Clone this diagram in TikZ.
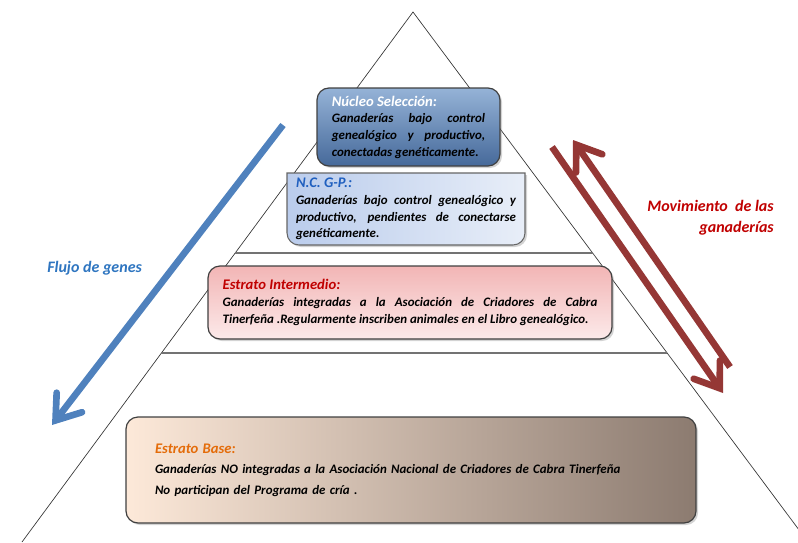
\documentclass[tikz,border=0pt]{standalone}
\usepackage{fontspec}
\setmainfont{Carlito}
\usetikzlibrary{calc,shadows,arrows.meta}

\definecolor{nucleotop}{HTML}{95B3D7}
\definecolor{nucleobot}{HTML}{46699A}
\definecolor{ncleft}{HTML}{BACCEC}
\definecolor{ncmid}{HTML}{A6BDE6}
\definecolor{ncright}{HTML}{E8EEF8}
\definecolor{nctitle}{HTML}{1F5FBF}
\definecolor{inttop}{HTML}{F2B5B5}
\definecolor{intbot}{HTML}{FCEAEA}
\definecolor{inttitle}{HTML}{C00000}
\definecolor{baseleft}{HTML}{FDE9D9}
\definecolor{baseright}{HTML}{8C7B70}
\definecolor{basetitle}{HTML}{E46C0A}
\definecolor{flujoblue}{HTML}{4F81BD}
\definecolor{flujotext}{HTML}{2E75C0}
\definecolor{movred}{HTML}{953735}

\newcommand{\titulofont}{\fontsize{11}{13.5}\selectfont}

\tikzset{
	sombra/.style={drop shadow={shadow xshift=1.5pt, shadow yshift=-1.5pt, opacity=0.35}},
	estrato/.style={rectangle, rounded corners=9pt, draw=black!75, line width=0.9pt,
		inner sep=0pt, font=\bfseries\itshape\fontsize{9.7}{12.5}\selectfont},
	flecha/.style={line width=5pt, -{Straight Barb[length=17pt,width=24pt,line cap=round]}},
	lateral/.style={inner sep=0pt, font=\bfseries\itshape\fontsize{12}{16}\selectfont}
}

\begin{document}
\begin{tikzpicture}[x=0.75pt, y=-0.75pt]
		%%%%% START %%%%%
		\useasboundingbox (0,0) rectangle (798,542);
		
		% piramide
		\coordinate (apex) at (413,12);
		\coordinate (baseL) at (22,542);
		\coordinate (baseR) at (808,542);
		\begin{scope}
			\clip (0,0) rectangle (798,542);
			\draw[line width=0.5pt, black!80] (baseL) -- (apex) -- (baseR);
		\end{scope}
		\draw[line width=0.8pt, black!55] ($(apex)!0.4547!(baseL)$) -- ($(apex)!0.4547!(baseR)$);
		\draw[line width=0.8pt, black!55] ($(apex)!0.6434!(baseL)$) -- ($(apex)!0.6434!(baseR)$);
		
		% estratos
		\node[estrato, sombra, top color=nucleotop, bottom color=nucleobot, minimum width=137.25pt, minimum height=58.5pt,
			text width=115pt, align=justify] (nucleo) at (408.5,127)
			{{\color{white}\titulofont Núcleo Selección:}\\
			Ganaderías bajo control\linebreak genealógico y productivo,\linebreak conectadas genéticamente.};
		
		\path[draw=black!60, line width=0.8pt, left color=ncleft, middle color=ncmid, right color=ncright, sombra]
			(287,209) -- (287,173) -- (525,173) [rounded corners=9pt] -- (525,245) -- (287,245) [sharp corners] -- cycle;
		\node[estrato, draw=none, minimum width=178.5pt, minimum height=54pt, text width=165pt, align=justify]
			(ncgp) at (406,209)
			{{\color{nctitle}\titulofont N.C. G-P.:}\\
			Ganaderías bajo control genealógico y\linebreak productivo, pendientes de conectarse\linebreak genéticamente.};
		
		\node[estrato, sombra, top color=inttop, bottom color=intbot, minimum width=303pt, minimum height=54.75pt,
			text width=281pt, align=justify] (intermedio) at (410,302.5)
			{{\color{inttitle}\titulofont Estrato Intermedio:}\\
			Ganaderías integradas a la Asociación de Criadores de Cabra\linebreak Tinerfeña .Regularmente inscriben animales en el Libro genealógico.};
		
		\node[estrato, sombra, left color=baseleft, right color=baseright, minimum width=427.5pt, minimum height=79.5pt,
			text width=384pt, align=left, font=\bfseries\itshape\fontsize{9.7}{15.5}\selectfont] (base) at (411,470)
			{{\color{basetitle}\titulofont Estrato Base:}\\
			Ganaderías NO integradas a la Asociación Nacional de Criadores de Cabra Tinerfeña\\
			No participan del Programa de cría .};
		
		% flechas
		\coordinate (flujo ini) at (283,125);
		\coordinate (flujo fin) at (52,425);
		\draw[flecha, flujoblue] (flujo ini) -- (flujo fin);
		
		\coordinate (sube ini) at (730,367);
		\coordinate (sube fin) at (573,140);
		\coordinate (baja ini) at (552,147);
		\coordinate (baja fin) at (723,393);
		\draw[flecha, movred] (sube ini) -- (sube fin);
		\draw[flecha, movred] (baja ini) -- (baja fin);
		
		\node[lateral, anchor=west, text=flujotext] (flujo) at (47,268) {Flujo de genes};
		\node[lateral, anchor=east, align=right, text=inttitle] (movimiento) at (774,218)
			{Movimiento\ \ de las\\ganaderías};
		%%%%% END %%%%%
\end{tikzpicture}
\end{document}
